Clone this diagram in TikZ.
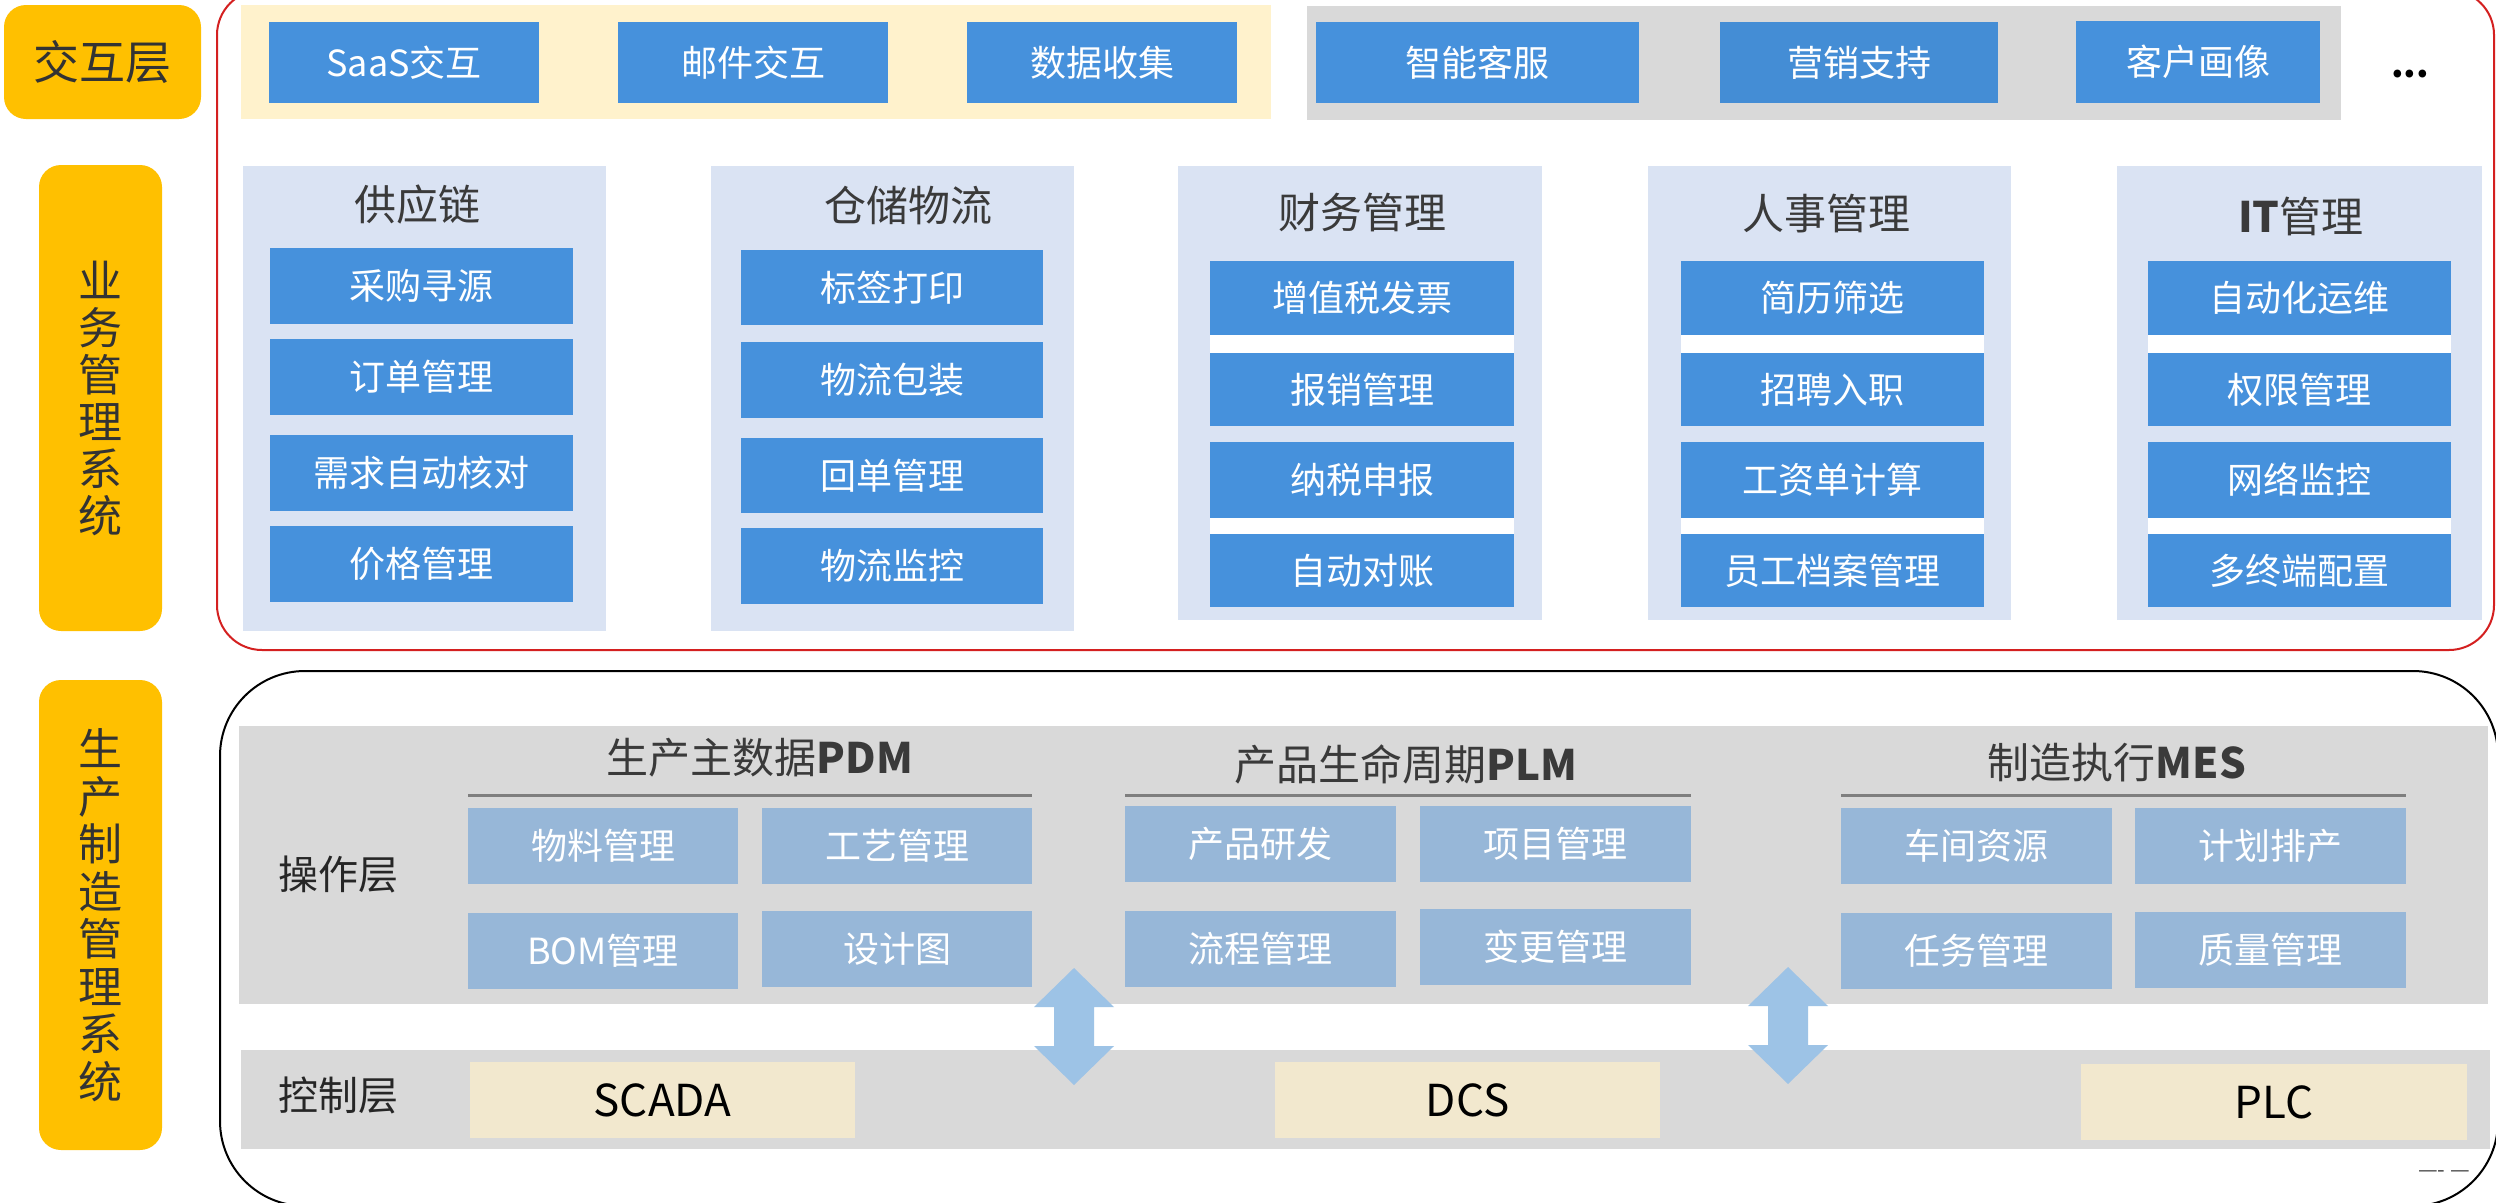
\documentclass[tikz,border=0pt]{standalone}
\usepackage{fontspec}
\setmainfont{Noto Sans CJK SC}
\usetikzlibrary{calc}
\definecolor{labc}{HTML}{FFC000}
\definecolor{bluec}{HTML}{4691DC}
\definecolor{beigeP}{HTML}{FFF2CC}
\definecolor{greyP}{HTML}{D9D9D9}
\definecolor{lav}{HTML}{DAE3F3}
\definecolor{steel}{HTML}{97B7D8}
\definecolor{ctrlB}{HTML}{F2E8CE}
\definecolor{arrc}{HTML}{9DC3E6}
\definecolor{frameR}{HTML}{D42020}
\definecolor{tdark}{HTML}{3A3A3A}
\definecolor{txt}{HTML}{333333}
\definecolor{ulc}{HTML}{7F7F7F}
\newcommand\fsz[1]{\fontsize{#1}{#1}\selectfont}
\newcommand\bxn[7]{\node[#1, minimum width=#5pt, minimum height=#6pt] (#2) at (#3,#4) {#7};}
\begin{document}
\begin{tikzpicture}[x=1pt,y=-1pt,
  base/.style={anchor=north west, inner sep=0pt, outer sep=0pt},
  labbox/.style={base, fill=labc, rounded corners=22pt, text=txt, align=center},
  bluebox/.style={base, fill=bluec, text=white, font=\fsz{36}},
  steelbox/.style={base, fill=steel, text=white, font=\fsz{36}},
  ctrlbox/.style={base, fill=ctrlB, text=black, font=\fsz{44}},
  title/.style={text=tdark, font=\fsz{42}, inner sep=0pt},
  layer/.style={text=black!85, font=\fsz{40}, inner sep=0pt},
  uline/.style={draw=ulc, line width=3pt},
  dblarrow/.style={fill=arrc}
]
\useasboundingbox (0,0) rectangle (2496,1202);
\clip (0,0) rectangle (2496,1202);
\fill[white] (0,0) rectangle (2496,1202);

% frames
\bxn{base, draw=frameR, line width=2pt, rounded corners=45pt}{F1}{217}{-10}{2277}{660}{}
\bxn{base, draw=black, line width=2pt, rounded corners=85pt}{F2}{220}{671}{2278}{535}{}

% left labels
\bxn{labbox, font=\fsz{46}}{L1}{4}{5}{197}{114}{交互层}
\bxn{labbox, font=\fontsize{44}{47}\selectfont}{L2}{39}{165}{123}{466}{业\\务\\管\\理\\系\\统}
\bxn{labbox, font=\fontsize{44}{47.5}\selectfont}{L3}{39}{680}{123}{470}{生\\产\\制\\造\\管\\理\\系\\统}

% interaction layer
\bxn{base, fill=beigeP}{P1}{241}{5}{1030}{114}{}
\bxn{base, fill=greyP}{P2}{1307}{6}{1034}{114}{}
\bxn{bluebox}{i1}{269}{22}{270}{81}{SaaS交互}
\bxn{bluebox}{i2}{618}{22}{270}{81}{邮件交互}
\bxn{bluebox}{i3}{967}{22}{270}{81}{数据收集}
\bxn{bluebox}{i4}{1316}{22}{323}{81}{智能客服}
\bxn{bluebox, fill=bluec!97!black}{i5}{1720}{22}{278}{81}{营销支持}
\bxn{bluebox}{i6}{2076}{21}{244}{82}{客户画像}
\node[font=\fsz{36}\bfseries, text=black, inner sep=0pt] (dots) at (2410,74) {...};

% business panels
\bxn{base, fill=lav}{S1}{243}{166}{363}{465}{}
\bxn{base, fill=lav}{S2}{711}{166}{363}{465}{}
\bxn{base, fill=lav}{S3}{1178}{166}{364}{454}{}
\bxn{base, fill=lav}{S4}{1648}{166}{363}{454}{}
\bxn{base, fill=lav}{S5}{2117}{166}{365}{454}{}

\node[title] (t1) at (417,205) {供应链};
\node[title] (t2) at (908,205) {仓储物流};
\node[title] (t3) at (1362,212) {财务管理};
\node[title] (t4) at (1826,214) {人事管理};
\node[title] (t5) at (2301,216) {\textbf{IT}管理};

\bxn{bluebox}{s11}{270}{248}{303}{76}{采购寻源}
\bxn{bluebox}{s12}{270}{339}{303}{76}{订单管理}
\bxn{bluebox}{s13}{270}{435}{303}{76}{需求自动核对}
\bxn{bluebox}{s14}{270}{526}{303}{76}{价格管理}

\bxn{bluebox}{s21}{741}{250}{302}{75}{标签打印}
\bxn{bluebox}{s22}{741}{342}{302}{76}{物流包装}
\bxn{bluebox}{s23}{741}{438}{302}{75}{回单管理}
\bxn{bluebox}{s24}{741}{528}{302}{76}{物流监控}

% white strips
\fill[white] (1210,335) rectangle (1514,353);
\fill[white] (1210,518) rectangle (1514,534);
\fill[white] (1681,335) rectangle (1984,353);
\fill[white] (1681,518) rectangle (1984,534);
\fill[white] (2148,335) rectangle (2451,353);
\fill[white] (2148,518) rectangle (2451,534);

\bxn{bluebox}{s31}{1210}{261}{304}{74}{增值税发票}
\bxn{bluebox}{s32}{1210}{353}{304}{73}{报销管理}
\bxn{bluebox}{s33}{1210}{442}{304}{76}{纳税申报}
\bxn{bluebox}{s34}{1210}{534}{304}{73}{自动对账}

\bxn{bluebox}{s41}{1681}{261}{303}{74}{简历筛选}
\bxn{bluebox}{s42}{1681}{353}{303}{73}{招聘入职}
\bxn{bluebox}{s43}{1681}{442}{303}{76}{工资单计算}
\bxn{bluebox}{s44}{1681}{534}{303}{73}{员工档案管理}

\bxn{bluebox}{s51}{2148}{261}{303}{74}{自动化运维}
\bxn{bluebox}{s52}{2148}{353}{303}{73}{权限管理}
\bxn{bluebox}{s53}{2148}{442}{303}{76}{网络监控}
\bxn{bluebox}{s54}{2148}{534}{303}{73}{多终端配置}

% production
\bxn{base, fill=greyP}{OP}{239}{726}{2249}{278}{}
\bxn{base, fill=greyP}{CT}{241}{1050}{2249}{99}{}
\node[layer] (opl) at (338,874) {操作层};
\node[layer] (ctl) at (338,1095) {控制层};

\node[title] (g1) at (760,758) {生产主数据\textbf{PDM}};
\node[title] (g2) at (1406,764) {产品生命周期\textbf{PLM}};
\node[title] (g3) at (2117,763) {制造执行\textbf{MES}};
\coordinate (u1a) at (468,795); \coordinate (u1b) at (1032,795);
\coordinate (u2a) at (1125,795); \coordinate (u2b) at (1691,795);
\coordinate (u3a) at (1841,795); \coordinate (u3b) at (2406,795);
\draw[uline] (u1a) -- (u1b);
\draw[uline] (u2a) -- (u2b);
\draw[uline] (u3a) -- (u3b);

\bxn{steelbox}{p11}{468}{808}{270}{76}{物料管理}
\bxn{steelbox}{p12}{762}{808}{270}{76}{工艺管理}
\bxn{steelbox}{p13}{468}{913}{270}{76}{BOM管理}
\bxn{steelbox}{p14}{762}{911}{270}{76}{设计图}

\bxn{steelbox}{p21}{1125}{806}{271}{76}{产品研发}
\bxn{steelbox}{p22}{1420}{806}{271}{76}{项目管理}
\bxn{steelbox}{p23}{1125}{911}{271}{76}{流程管理}
\bxn{steelbox}{p24}{1420}{909}{271}{76}{变更管理}

\bxn{steelbox}{p31}{1841}{808}{271}{76}{车间资源}
\bxn{steelbox}{p32}{2135}{808}{271}{76}{计划排产}
\bxn{steelbox}{p33}{1841}{913}{271}{76}{任务管理}
\bxn{steelbox}{p34}{2135}{912}{271}{76}{质量管理}

\bxn{ctrlbox}{c1}{470}{1062}{385}{76}{SCADA}
\bxn{ctrlbox}{c2}{1275}{1062}{385}{76}{DCS}
\bxn{ctrlbox}{c3}{2081}{1064}{386}{76}{PLC}

% double arrows
\coordinate (a1t) at (1074,968); \coordinate (a1b) at (1074,1085);
\coordinate (a2t) at (1788,967); \coordinate (a2b) at (1788,1084);
\foreach \t/\b in {a1t/a1b, a2t/a2b}{
  \fill[dblarrow] (\t) -- ($(\t)+(40,39)$) -- ($(\t)+(20,39)$) -- ($(\b)+(20,-39)$) -- ($(\b)+(40,-39)$)
    -- (\b) -- ($(\b)+(-40,-39)$) -- ($(\b)+(-20,-39)$) -- ($(\t)+(-20,39)$) -- ($(\t)+(-40,39)$) -- cycle;
}

\node[font=\fsz{22}, text=black!70, inner sep=0pt] (art) at (2444,1174) {---- —};
\end{tikzpicture}
\end{document}
